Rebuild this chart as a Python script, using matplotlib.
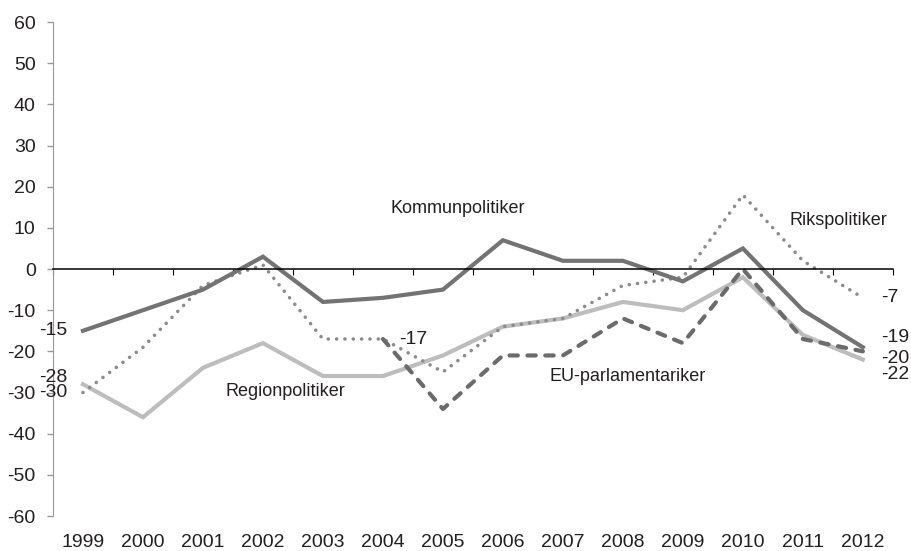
import numpy as np
import matplotlib
matplotlib.use("Agg")
import matplotlib.pyplot as plt

plt.rcParams['font.family'] = ['Liberation Sans', 'DejaVu Sans']
plt.rcParams['axes.unicode_minus'] = False

years = ['1999', '2000', '2001', '2002', '2003', '2004', '2005',
         '2006', '2007', '2008', '2009', '2010', '2011', '2012']
kommun = [-15, -10, -5, 3, -8, -7, -5, 7, 2, 2, -3, 5, -10, -19]
riks = [-30, -19, -4, 1, -17, -17, -25, -14, -12, -4, -2, 18, 2, -7]
region = [-28, -36, -24, -18, -26, -26, -21, -14, -12, -8, -10, -2, -16, -22]
eu = [np.nan] * 5 + [-17, -34, -21, -21, -12, -18, 0, -17, -20]

txt = '#231f20'
x = np.arange(len(years))

fig = plt.figure(figsize=(9.12, 5.51), dpi=100)
ax = fig.add_axes([0.0581, 0.0635, 0.9209, 0.8965])

ax.plot(x, region, color='#bdbdbd', lw=3, solid_joinstyle='miter')
ax.plot(x, riks, color='#8c8c8c', lw=2.6, linestyle=(0, (0.01, 2.3)),
        dash_capstyle='round')
ax.plot(x, eu, color='#6b6b6b', lw=3, linestyle=(0, (2.0, 2.3)),
        dash_capstyle='round')
ax.plot(x, kommun, color='#737373', lw=3, solid_joinstyle='miter')

ax.set_xlim(-0.5, 13.5)
ax.set_ylim(-60, 60)
ax.set_yticks(np.arange(-60, 61, 10))
ax.tick_params(axis='y', colors='#999999', length=4.5, width=1, pad=8,
               labelcolor=txt, labelsize=14)

# x axis line at 0 with ticks between categories
ax.spines['bottom'].set_position(('data', 0))
ax.spines['bottom'].set_color('black')
ax.spines['bottom'].set_linewidth(1.1)
ax.set_xticks(np.arange(-0.5, 14, 1))
ax.tick_params(axis='x', direction='out', length=4, color='black',
               labelbottom=False)
ax.spines['left'].set_color('#999999')
ax.spines['top'].set_visible(False)
ax.spines['right'].set_visible(False)

sec = ax.secondary_xaxis(0)
sec.set_xticks(x, labels=years)
sec.tick_params(length=0, pad=13, labelsize=14, labelcolor=txt)
for s in sec.spines.values():
    s.set_visible(False)

# end labels
def lab(xi, yi, dx, dy, ha):
    ax.annotate(str(yi), xy=(xi, yi), xytext=(dx, dy), textcoords='offset points',
                ha=ha, va='center', fontsize=14, color=txt)

lab(0, kommun[0], -11.5, 0, 'right')
lab(0, region[0], -11.5, 5, 'right')
lab(0, riks[0], -11.5, 0, 'right')
lab(5, eu[5], 12, 0, 'left')
lab(13, riks[13], 13, 0, 'left')
lab(13, kommun[13], 13, 7, 'left')
lab(13, eu[13], 13, -5.5, 'left')
lab(13, region[13], 13, -10.5, 'left')

# series names
ax.text(5.12, 14.8, 'Kommunpolitiker', fontsize=13, color=txt, va='center')
ax.text(11.77, 11.7, 'Rikspolitiker', fontsize=13, color=txt, va='center')
ax.text(2.37, -29.8, 'Regionpolitiker', fontsize=13, color=txt, va='center')
ax.text(7.78, -26, 'EU-parlamentariker', fontsize=13, color=txt, va='center')

fig.savefig('out.png', dpi=100)
